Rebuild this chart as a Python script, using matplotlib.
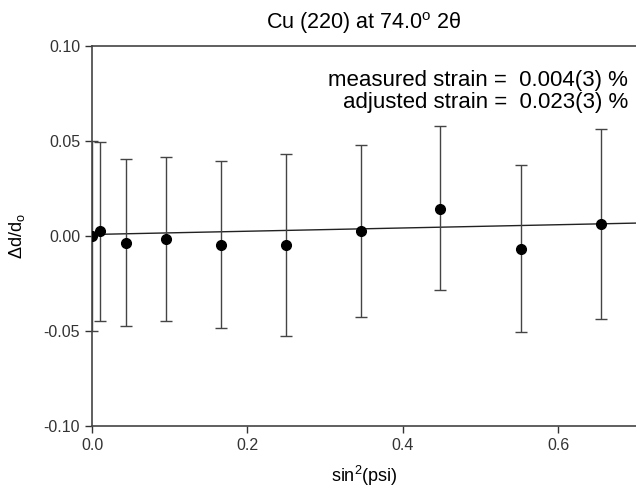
import matplotlib
matplotlib.use('Agg')
import matplotlib.pyplot as plt
import numpy as np

# sin^2(psi) tilts and measured delta d / d0
sin2psi = [0.0, 0.0109, 0.0432, 0.0955, 0.1654, 0.25, 0.3455, 0.4477, 0.5523, 0.6545]
dd = [0.000, 0.0026, -0.0035, -0.0016, -0.0047, -0.0047, 0.0026, 0.0144, -0.0067, 0.0065]
err_top = [0.050, 0.0496, 0.0404, 0.0414, 0.0396, 0.0432, 0.0477, 0.0577, 0.0375, 0.0563]
err_bot = [-0.050, -0.0447, -0.0474, -0.0447, -0.0486, -0.0525, -0.0428, -0.0286, -0.0505, -0.0437]

# fitted line end points
fit_x = [0.0, 0.7]
fit_y = [0.0008, 0.0068]

plt.rcParams['font.family'] = ['Liberation Sans', 'DejaVu Sans']
plt.rcParams['mathtext.fontset'] = 'custom'
plt.rcParams['mathtext.rm'] = 'Liberation Sans'
plt.rcParams['mathtext.it'] = 'Liberation Sans'
plt.rcParams['mathtext.default'] = 'regular'

fig = plt.figure(figsize=(6.36, 4.9), dpi=100)
ax = fig.add_axes([0.1447, 0.1306, 0.8553, 0.7755])

y = np.array(dd)
yerr = [y - np.array(err_bot), np.array(err_top) - y]
ax.plot(fit_x, fit_y, color='#222222', lw=1.0, zorder=2)
ax.errorbar(sin2psi, dd, yerr=yerr, fmt='none', ecolor='#444444', elinewidth=1.0,
            capsize=4, capthick=1.0, zorder=3)
ax.plot(sin2psi, dd, 'o', color='black', markersize=7, zorder=4)

ax.set_xlim(0, 0.7)
ax.set_ylim(-0.10, 0.10)
ax.set_xticks([0.0, 0.2, 0.4, 0.6])
ax.set_yticks([-0.10, -0.05, 0.0, 0.05, 0.10])
ax.set_xticklabels(['0.0', '0.2', '0.4', '0.6'])
ax.set_yticklabels(['-0.10', '-0.05', '0.00', '0.05', '0.10'])
ax.tick_params(labelsize=11.5, colors='#333333', length=5, width=1.0)
for s in ['left', 'bottom', 'top']:
	ax.spines[s].set_color('#444444')
	ax.spines[s].set_linewidth(1.2)
ax.spines['right'].set_visible(False)

ax.set_title(u'Cu (220) at 74.0$^{o}$ 2\u03b8', fontsize=15.5, pad=12)
ax.set_xlabel('sin$^{2}$(psi)', fontsize=13, labelpad=8)
ax.set_ylabel('\u0394d/d$_{o}$', fontsize=13, labelpad=12)

ax.text(0.690, 0.0789, 'measured strain =  0.004(3) %', ha='right', va='baseline', fontsize=16)
ax.text(0.690, 0.0674, 'adjusted strain =  0.023(3) %', ha='right', va='baseline', fontsize=16)

plt.savefig('out.png', dpi=100)
